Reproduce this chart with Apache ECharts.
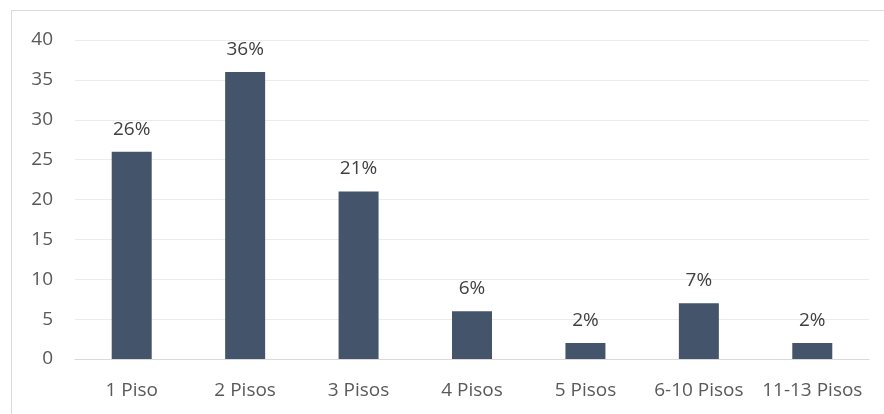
<!DOCTYPE html>
<html>
<head>
<meta charset="utf-8">
<script src="https://cdn.jsdelivr.net/npm/echarts@6/dist/echarts.min.js"></script>
<style>
  html, body { margin: 0; padding: 0; background: #fff; }
  #chart { width: 884px; height: 414px; }
</style>
</head>
<body>
<div id="chart"></div>
<script>
// categorias y valores
const categorias = ['1 Piso', '2 Pisos', '3 Pisos', '4 Pisos', '5 Pisos', '6-10 Pisos', '11-13 Pisos']
const valores = [26, 36, 21, 6, 2, 7, 2]
const etiquetas = ['26%', '36%', '21%', '6%', '2%', '7%', '2%']

const myChart = echarts.init(document.getElementById('chart'))
const option = {
  animation: false,
  textStyle: { fontFamily: 'Open Sans' },
  graphic: [
    // marco del grafico
    { type: 'line', shape: { x1: 11, y1: 10.5, x2: 884, y2: 10.5 }, style: { stroke: '#d9d9d9', lineWidth: 1 } },
    { type: 'line', shape: { x1: 11.5, y1: 10, x2: 11.5, y2: 414 }, style: { stroke: '#d9d9d9', lineWidth: 1 } }
  ],
  grid: { left: 75, right: 15, top: 40, bottom: 55 },
  xAxis: {
    type: 'category',
    data: categorias,
    axisTick: { show: false },
    axisLine: { lineStyle: { color: '#d9d9d9' } },
    axisLabel: { color: '#595959', fontSize: 19, margin: 22, interval: 0 }
  },
  yAxis: {
    type: 'value',
    min: 0,
    max: 40,
    interval: 5,
    axisLine: { show: false },
    axisTick: { show: false },
    splitLine: { lineStyle: { color: '#ececec' } },
    axisLabel: { color: '#595959', fontSize: 19, margin: 22 }
  },
  series: [
    {
      type: 'bar',
      data: valores,
      barWidth: 40,
      itemStyle: { color: '#44546a' },
      label: {
        show: true,
        position: 'top',
        distance: 13,
        color: '#404040',
        fontSize: 19,
        formatter: (p) => etiquetas[p.dataIndex]
      }
    }
  ]
}
myChart.setOption(option)
</script>
</body>
</html>
